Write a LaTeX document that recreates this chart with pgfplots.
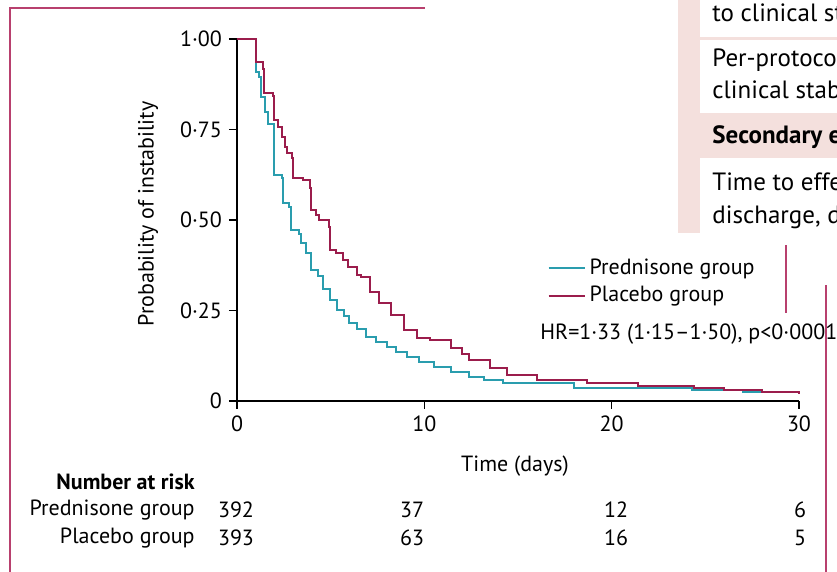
\documentclass[border=0pt]{standalone}
\usepackage{pgfplots}
\pgfplotsset{compat=1.18}
\usepackage{fontspec}
\setmainfont{PT Sans}
\definecolor{pred}{HTML}{2A9DAE}
\definecolor{plac}{HTML}{9B1D4C}
\definecolor{framec}{HTML}{B8406E}
\definecolor{pinkbg}{HTML}{F4E0DD}
\newcommand{\fs}{\fontsize{11}{13}\selectfont}
\newcommand{\fp}{\fontsize{12.5}{14}\selectfont}
\begin{document}
\begin{tikzpicture}
\useasboundingbox (0pt,0pt) rectangle (418.5pt,286pt);
\clip (0pt,0pt) rectangle (418.5pt,286pt);
\fill[white] (0pt,0pt) rectangle (418.5pt,286pt);
% surrounding page fragments
\fill[pinkbg] (339pt,169.5pt) rectangle (418.5pt,286pt);
\fill[white] (350pt,267.5pt) rectangle (418.5pt,286pt);
\fill[white] (350pt,229.5pt) rectangle (418.5pt,266pt);
\fill[white] (350pt,169.5pt) rectangle (418.5pt,207pt);
\node[anchor=west,inner sep=0pt,font=\fp] at (356pt,278.5pt) {to clinical stability};
\node[anchor=west,inner sep=0pt,font=\fp] at (356pt,256pt) {Per-protocol analysis};
\node[anchor=west,inner sep=0pt,font=\fp] at (356pt,240pt) {clinical stability};
\node[anchor=west,inner sep=0pt,font=\fp\bfseries] at (356pt,217.5pt) {Secondary endpoints};
\node[anchor=west,inner sep=0pt,font=\fp] at (356pt,195pt) {Time to effective};
\node[anchor=west,inner sep=0pt,font=\fp] at (356pt,177.5pt) {discharge, days};
% frame lines
\draw[framec,line width=0.8pt] (5pt,0pt) -- (5pt,282pt) -- (212.5pt,282pt);
\draw[framec,line width=0.6pt] (413pt,0pt) -- (413pt,143.5pt);
\draw[framec,line width=0.6pt] (393pt,129.5pt) -- (393pt,163.5pt);
\begin{axis}[
  at={(118.5pt,85.5pt)}, anchor=south west,
  scale only axis, width=281pt, height=181pt,
  xmin=0, xmax=30, ymin=0, ymax=1,
  axis lines*=left,
  axis line style={line width=0.7pt,black},
  xtick={0,10,20,30}, xticklabels={0,10,20,30},
  ytick={0,0.25,0.5,0.75,1}, yticklabels={0,0·25,0·50,0·75,1·00},
  tick align=outside, major tick length=4pt,
  tick style={line width=0.7pt,black},
  ticklabel style={font=\fs},
  clip=false,
  legend style={at={(0.552,0.405)}, anchor=north west, draw=none, fill=none,
    inner sep=0pt, font=\fs, row sep=0.5pt},
  legend cell align=left,
  legend image code/.code={\draw[#1] (0pt,0pt) -- (18pt,0pt);},
]
\addplot[const plot, pred, line width=1pt] coordinates {
(0,1.00) (1.0,0.908) (1.15,0.896) (1.3,0.84) (1.5,0.797) (1.65,0.765)
(1.97,0.625) (2.4,0.617) (2.45,0.548) (2.8,0.535) (2.9,0.473) (3.3,0.46)
(3.4,0.437) (3.7,0.41) (3.95,0.362) (4.3,0.345) (4.6,0.31) (4.96,0.28)
(5.33,0.252) (5.7,0.235) (6.0,0.216) (6.4,0.2) (6.9,0.177) (7.4,0.163)
(8.0,0.149) (8.5,0.135) (9.07,0.122) (9.7,0.108) (10.5,0.094) (11.4,0.08)
(12.4,0.066) (13.2,0.058) (14.2,0.05) (18.0,0.036) (24.3,0.03) (27,0.025) (30,0.02)};
\addlegendentry{Prednisone group}
\addplot[const plot, plac, line width=1pt] coordinates {
(0,1.00) (1.0,0.936) (1.4,0.918) (1.45,0.85) (1.9,0.842) (1.95,0.777)
(2.2,0.758) (2.4,0.73) (2.55,0.703) (2.65,0.686) (2.95,0.672) (3.0,0.617)
(3.5,0.611) (3.9,0.589) (3.95,0.528) (4.2,0.515) (4.4,0.50) (4.9,0.48)
(4.95,0.418) (5.3,0.41) (5.65,0.39) (5.95,0.371) (6.4,0.349) (6.6,0.343)
(7.1,0.30) (7.6,0.271) (8.2,0.238) (8.9,0.196) (9.6,0.175) (10.3,0.169)
(11.4,0.147) (12.0,0.13) (12.4,0.113) (13.5,0.091) (14.4,0.072) (16,0.058)
(18.7,0.05) (21.4,0.041) (24.4,0.035) (26,0.03) (28,0.025) (30,0.019)};
\addlegendentry{Placebo group}
\end{axis}
% axis labels
\node[rotate=90,font=\fs] at (74pt,179pt) {Probability of instability};
\node[font=\fs] at (257.5pt,53pt) {Time (days)};
\node[anchor=west,inner sep=0pt,font=\fs] at (270pt,119pt) {HR=1·33 (1·15–1·50), p<0·0001};
% number at risk
\node[anchor=east,inner sep=0pt,font=\fs\bfseries] at (97.5pt,45pt) {Number at risk};
\node[anchor=east,inner sep=0pt,font=\fs] at (97.5pt,31pt) {Prednisone group};
\node[anchor=east,inner sep=0pt,font=\fs] at (97.5pt,17pt) {Placebo group};
\foreach \x/\a/\b in {118/392/393, 206/37/63, 308/12/16, 400/6/5} {
  \node[inner sep=0pt,font=\fs] at (\x pt,31pt) {\a};
  \node[inner sep=0pt,font=\fs] at (\x pt,17pt) {\b};
}
\end{tikzpicture}
\end{document}
